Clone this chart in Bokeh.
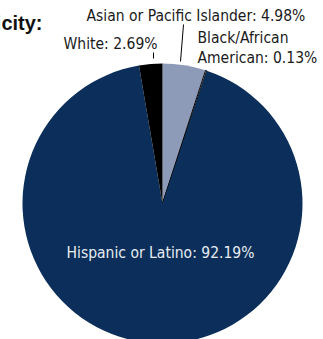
import math
from bokeh.plotting import figure
from bokeh.models import Range1d, ColumnDataSource
from bokeh.core.properties import value
from bokeh.embed import file_html
from bokeh.resources import INLINE

# data
categories = ["Asian or Pacific Islander", "Black/African American", "Hispanic or Latino", "White"]
shares = [4.98, 0.13, 92.19, 2.69]
colors = ["#8d9ab8", "#ffffff", "#0b2f5a", "#000000"]
line_colors = ["#8d9ab8", "#000000", "#0b2f5a", "#000000"]
line_widths = [0, 1, 0, 0]

W, H = 323, 339
p = figure(width=W, height=H, output_backend="svg", toolbar_location=None,
           x_range=Range1d(0, W), y_range=Range1d(-H, 0),
           min_border=0, outline_line_color=None)
p.axis.visible = False
p.grid.visible = False
p.background_fill_color = "white"
p.border_fill_color = "white"

total = sum(shares)
starts, ends = [], []
a = math.pi / 2
for s in shares:
    starts.append(a)
    a -= s / total * 2 * math.pi
    ends.append(a)

cx, cy, r = 162, -203, 140
src = ColumnDataSource(dict(start=starts, end=ends, fill=colors, lc=line_colors, lw=line_widths))
p.wedge(x=cx, y=cy, radius=r, start_angle="start", end_angle="end", direction="clock",
        fill_color="fill", line_color="lc", line_width="lw", source=src)

FONT = value("DejaVu Sans Condensed, Roboto Condensed, Roboto")

# leader lines
p.segment(x0=[183, 153], y0=[-24, -52], x1=[180, 153], y1=[-61, -58], line_color="black", line_width=1)

labels_x = [86, 157, 197, 197]
labels_y = [-15, -43, -37, -57]
labels_t = [f"{categories[0]}: {shares[0]:.2f}%", f"{categories[3]}: {shares[3]:.2f}%",
            "Black/African", f"American: {shares[1]:.2f}%"]
aligns = ["left", "right", "left", "left"]
p.text(x=labels_x, y=labels_y, text=labels_t, text_align=aligns, text_baseline="middle",
       text_font=FONT, text_font_size="15.5px", text_color="#1a1a1a")

p.text(x=[160], y=[-252], text=[f"{categories[2]}: {shares[2]:.2f}%"], text_align="center",
       text_baseline="middle", text_font=FONT, text_font_size="15.5px", text_color="#e8ecf2")

p.text(x=[42], y=[-22], text=["Ethnicity:"], text_align="right", text_baseline="alphabetic",
       text_font=value("Liberation Sans"), text_font_style="bold", text_font_size="20px",
       text_color="#111111")

open("out.html", "w").write(file_html(p, INLINE))
